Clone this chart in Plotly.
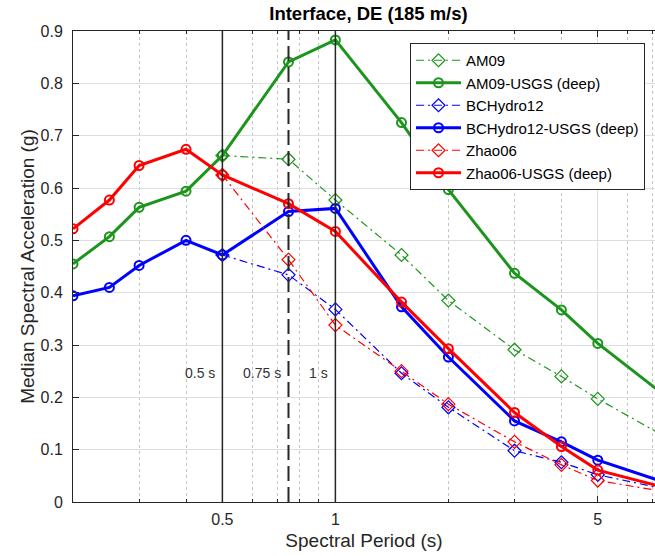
import plotly.graph_objects as go
import math

# ---------------- data ----------------
periods = [0.2, 0.25, 0.3, 0.4, 0.5, 0.75, 1.0, 1.5, 2.0, 3.0, 4.0, 5.0, 7.5]
periods_model = [0.5, 0.75, 1.0, 1.5, 2.0, 3.0, 4.0, 5.0, 7.5]

am09 = [0.662, 0.655, 0.577, 0.472, 0.385, 0.291, 0.240, 0.197, 0.126]
am09_usgs = [0.455, 0.507, 0.563, 0.594, 0.662, 0.841, 0.883, 0.725, 0.597, 0.437, 0.367, 0.303, 0.205]
bchydro12 = [0.472, 0.434, 0.368, 0.246, 0.181, 0.098, 0.076, 0.052, 0.025]
bchydro12_usgs = [0.394, 0.410, 0.452, 0.500, 0.472, 0.555, 0.561, 0.373, 0.277, 0.155, 0.115, 0.080, 0.038]
zhao06 = [0.625, 0.463, 0.338, 0.250, 0.187, 0.115, 0.071, 0.041, 0.020]
zhao06_usgs = [0.522, 0.577, 0.643, 0.674, 0.625, 0.570, 0.517, 0.382, 0.293, 0.171, 0.106, 0.061, 0.028]

ref_periods = [0.5, 0.75, 1.0]
ref_labels = ["0.5 s", "0.75 s", "1 s"]
ref_label_y = 0.247

x_tickvals = [0.5, 1, 5]
x_ticktext = ["0.5", "1", "5"]
x_minor = [0.3, 0.4, 0.6, 0.7, 0.8, 0.9, 2, 3, 4, 6, 7]
y_tickvals = [0, 0.1, 0.2, 0.3, 0.4, 0.5, 0.6, 0.7, 0.8, 0.9]
y_ticktext = ["0", "0.1", "0.2", "0.3", "0.4", "0.5", "0.6", "0.7", "0.8", "0.9"]

GREEN = "#1c951c"
BLUE = "#0000ff"
RED = "#ff0000"
TXT = "#262626"
FONT = "Liberation Sans, Arial, Helvetica, sans-serif"
DASHDOT = "8px,4px,2px,4px"

fig = go.Figure()


def model(name, x, y, color):
    fig.add_trace(go.Scatter(
        x=x, y=y, name=name, mode="lines+markers",
        line=dict(color=color, width=1.2, dash=DASHDOT),
        marker=dict(symbol="diamond-open", size=10, color=color, line=dict(width=1.2, color=color)),
    ))


def usgs(name, x, y, color):
    fig.add_trace(go.Scatter(
        x=x, y=y, name=name, mode="lines+markers",
        line=dict(color=color, width=3),
        marker=dict(symbol="circle-open", size=9, color=color, line=dict(width=2, color=color)),
    ))


model("AM09", periods_model, am09, GREEN)
usgs("AM09-USGS (deep)", periods, am09_usgs, GREEN)
model("BCHydro12", periods_model, bchydro12, BLUE)
usgs("BCHydro12-USGS (deep)", periods, bchydro12_usgs, BLUE)
model("Zhao06", periods_model, zhao06, RED)
usgs("Zhao06-USGS (deep)", periods, zhao06_usgs, RED)

# reference period lines
for p, lab in zip(ref_periods, ref_labels):
    dashed = abs(p - 0.75) < 1e-9
    fig.add_shape(type="line", xref="x", yref="y", x0=p, x1=p, y0=0, y1=0.9,
                  line=dict(color="#262626", width=2 if dashed else 1.5,
                            dash="15px,6px" if dashed else "solid"),
                  layer="above")
    fig.add_annotation(x=math.log10(p), y=ref_label_y, text=lab, showarrow=False,
                       xanchor="right", yanchor="middle", xshift=-5,
                       font=dict(size=14, color="#333333", family=FONT))

W, H = 655, 556
x_lo = math.log10(0.2)
x_hi = x_lo + 582 / 375.4

fig.update_layout(
    width=W, height=H,
    margin=dict(l=73, r=0, t=31, b=54, autoexpand=False),
    paper_bgcolor="white", plot_bgcolor="white",
    font=dict(family=FONT, color=TXT),
    title=dict(text="<b>Interface, DE (185 m/s)</b>", x=368.5 / W, xanchor="center",
               xref="container", yref="container", y=1 - 13.5 / H, yanchor="middle",
               font=dict(size=18.5, color="#000000", family=FONT)),
    showlegend=True,
    legend=dict(x=(410 - 73) / 582, y=(502 - 43) / 471, xanchor="left", yanchor="top",
                bgcolor="white", bordercolor="#262626", borderwidth=1,
                font=dict(size=15, color="#000000", family=FONT),
                itemwidth=45, tracegroupgap=0),
    xaxis=dict(type="log", range=[x_lo, x_hi],
               tickvals=x_tickvals, ticktext=x_ticktext,
               ticks="inside", ticklen=6, tickcolor=TXT,
               showline=True, linecolor=TXT, linewidth=1, mirror="ticks",
               showgrid=True, gridcolor="#dedede", gridwidth=1,
               tickfont=dict(size=16, color=TXT),
               ticklabelstandoff=3,
               minor=dict(tickvals=x_minor, ticks="inside", ticklen=3, tickcolor=TXT,
                          showgrid=True, gridcolor="#c4c4c4", griddash="dot", gridwidth=1),
               title=dict(text="Spectral Period (s)", font=dict(size=19, color=TXT), standoff=6),
               zeroline=False),
    yaxis=dict(range=[0, 0.9], tickvals=y_tickvals, ticktext=y_ticktext,
               ticks="inside", ticklen=6, tickcolor=TXT,
               showline=True, linecolor=TXT, linewidth=1,
               showgrid=True, gridcolor="#dedede", gridwidth=1,
               tickfont=dict(size=16, color=TXT),
               ticklabelstandoff=6,
               title=dict(text="Median Spectral Acceleration (g)", font=dict(size=19, color=TXT), standoff=0),
               zeroline=False),
)

# remove the browser's default 8px body margin so the figure fills the window
fig.write_html("out.html", config={"displayModeBar": False},
               post_script="document.body.style.margin='0';")
